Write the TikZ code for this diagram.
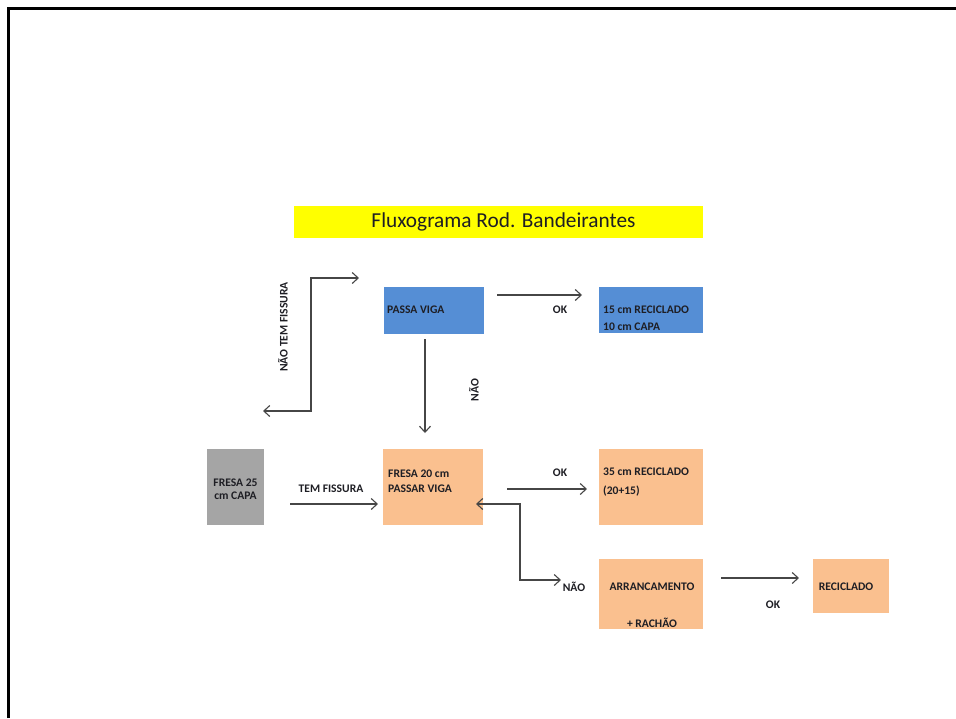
\documentclass[tikz,border=0pt]{standalone}
\usepackage{fontspec}
\setmainfont{Carlito}
\usetikzlibrary{arrows.meta,calc}

\definecolor{bluebox}{RGB}{85,142,213}
\definecolor{peach}{RGB}{250,192,143}
\definecolor{graybox}{RGB}{165,165,165}
\definecolor{titlebar}{RGB}{255,255,0}
\definecolor{ink}{RGB}{30,30,36}
\definecolor{wire}{RGB}{70,70,70}

\tikzset{
  box/.style={draw=none, inner sep=0pt, outer sep=0pt, anchor=north west},
  lbl/.style={font=\bfseries\fontsize{11.6}{13}\selectfont, text=ink, inner sep=0pt},
  arr/.style={draw=wire, line width=1.1pt, -{Straight Barb[length=6pt,width=11pt]}},
  darr/.style={draw=wire, line width=1.1pt, {Straight Barb[length=6pt,width=11pt]}-{Straight Barb[length=6pt,width=11pt]}},
}

\begin{document}
\begin{tikzpicture}[x=1pt,y=-1pt]
  \useasboundingbox (0,0) rectangle (956,718);
  \fill[white] (0,0) rectangle (956,718);
  % page frame
  \draw[line width=3pt] (8.5,718) -- (8.5,8.5) -- (956,8.5);

  % title bar
  \node[box, fill=titlebar, minimum width=409, minimum height=32] (title) at (294,206) {};
  \node[font=\fontsize{21.3}{25}\selectfont, text=ink, inner sep=0pt] (titletext) at ($(title.center)+(5,0)$) {Fluxograma Rod. Bandeirantes};

  % boxes
  \node[box, fill=bluebox, minimum width=100, minimum height=47] (passa) at (384,287) {};
  \node[box, fill=bluebox, minimum width=104, minimum height=46] (r15) at (599,287) {};
  \node[box, fill=graybox, minimum width=57, minimum height=76] (fresa25) at (207,449) {};
  \node[box, fill=peach, minimum width=100, minimum height=76] (fresa20) at (383,449) {};
  \node[box, fill=peach, minimum width=104, minimum height=76] (r35) at (599,449) {};
  \node[box, fill=peach, minimum width=104, minimum height=70] (arranc) at (599,559) {};
  \node[box, fill=peach, minimum width=76, minimum height=54] (recic) at (813,559) {};

  % box texts
  \node[lbl, anchor=west] (tpassa) at (387,310) {PASSA VIGA};
  \node[lbl, anchor=west, align=left, font=\bfseries\fontsize{11.6}{17}\selectfont] (tr15) at (603,318) {15 cm RECICLADO\\10 cm CAPA};
  \node[lbl, align=center] (tfresa25) at (235.5,489.5) {FRESA 25\\cm CAPA};
  \node[lbl, anchor=west, align=left, font=\bfseries\fontsize{11.6}{15}\selectfont] (tfresa20) at (388,481.5) {FRESA 20 cm\\PASSAR VIGA};
  \node[lbl, anchor=west, align=left, font=\bfseries\fontsize{11.6}{19}\selectfont] (tr35) at (603,482.5) {35 cm RECICLADO\\(20+15)};
  \node[lbl] (tarranc) at (652,587) {ARRANCAMENTO};
  \node[lbl] (trachao) at (652,623) {+ RACHÃO};
  \node[lbl] (trecic) at (846,587) {RECICLADO};

  % connector labels
  \node[lbl] (ok1) at (560,310) {OK};
  \node[lbl] (ok2) at (560,473) {OK};
  \node[lbl] (ok3) at (773,605) {OK};
  \node[lbl] (temf) at (331,489) {TEM FISSURA};
  \node[lbl] (nao1) at (574,587) {NÃO};
  \node[lbl, rotate=90] (nao2) at (474,390) {NÃO};
  \node[lbl, rotate=90] (naotem) at (283,327) {NÃO TEM FISSURA};

  % connectors
  \draw[arr] ($(passa.north east)+(13,8)$) -- ($(r15.north west)+(-17,8)$);
  \draw[arr] ($(passa.south west)+(41,5)$) -- ($(fresa20.north west)+(42,-16)$);
  \draw[arr] ($(fresa25.south east)+(26,-21)$) -- ($(fresa20.south west)+(-5,-21)$);
  \draw[arr] ($(fresa20.east)+(24,2)$) -- ($(r35.west)+(-12,2)$);
  \draw[darr] ($(fresa20.south east)+(-7,-21)$) -- ++(44,0) |- ($(arranc.west)+(-38,-14)$);
  \draw[arr] ($(arranc.east)+(18,-16)$) -- ($(recic.west)+(-14,-8)$);

  % bracket for the "no crack" branch
  \coordinate (brtop) at (311,278);
  \coordinate (brbot) at (311,411);
  \coordinate (brtopend) at (359,278);
  \coordinate (brbotend) at (263,411);
  \draw[darr] (brbotend) -- (brbot) -- (brtop) -- (brtopend);
\end{tikzpicture}
\end{document}
